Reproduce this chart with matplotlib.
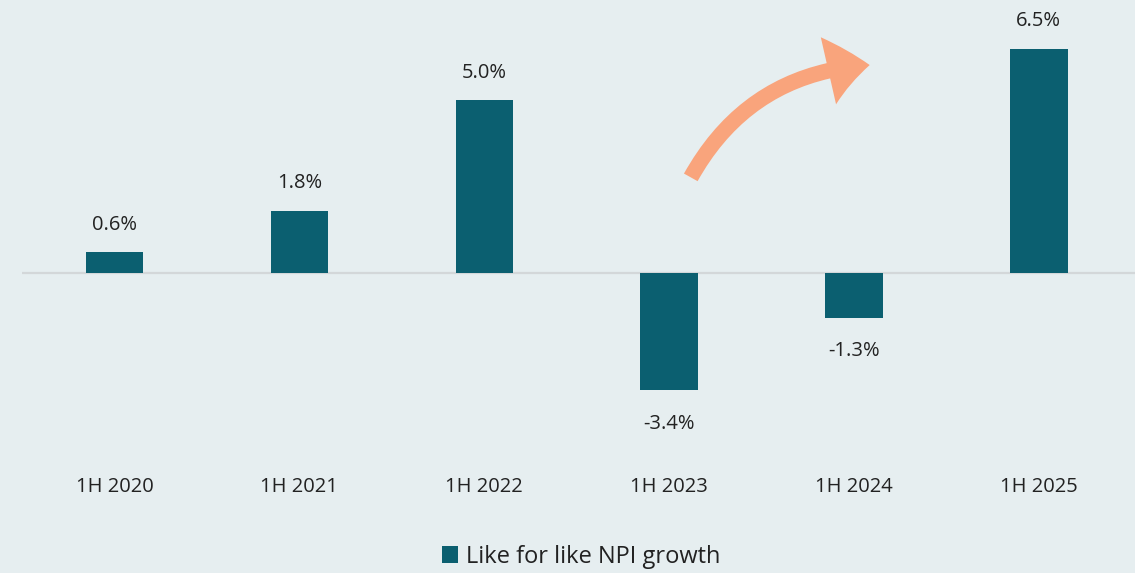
import numpy as np
import matplotlib.pyplot as plt
from matplotlib.patches import FancyArrowPatch

periods = ['1H 2020', '1H 2021', '1H 2022', '1H 2023', '1H 2024', '1H 2025']
growth = [0.6, 1.8, 5.0, -3.4, -1.3, 6.5]
labels = ['0.6%', '1.8%', '5.0%', '-3.4%', '-1.3%', '6.5%']

bg = '#e6eef0'
teal = '#0b5f70'

plt.rcParams['font.family'] = ['Open Sans', 'DejaVu Sans']

fig = plt.figure(figsize=(11.35, 5.73), dpi=100, facecolor=bg)
# axes: left 22px, width ~1113px, top 0, height 440px
ax = fig.add_axes([22/1135, 1 - 440/573, 1113/1135, 440/573])
ax.set_facecolor(bg)

x = np.arange(len(periods))
ax.bar(x, growth, width=0.31, color=teal, label='Like for like NPI growth', zorder=3)
ax.axhline(0, color='#d3d7d9', lw=1.6, zorder=2)

for xi, v, t in zip(x, growth, labels):
    if v >= 0:
        ax.text(xi, v + 0.8, t, ha='center', va='center', fontsize=14.5, color='#222222')
    else:
        ax.text(xi, v - 0.97, t, ha='center', va='center', fontsize=14.5, color='#222222')

ax.set_xlim(-0.5, 5.52)
ax.set_ylim(-4.84, 7.91)
ax.set_xticks(x)
ax.set_xticklabels(periods, fontsize=14.5, color='#222222')
ax.tick_params(axis='x', length=0, pad=27)
ax.set_yticks([])
for s in ax.spines.values():
    s.set_visible(False)

# curved arrow
arr = FancyArrowPatch((3.11, 2.7), (4.1, 6.03), connectionstyle='arc3,rad=-0.28',
                      arrowstyle='simple,head_length=2.0,head_width=3.3,tail_width=0.75',
                      mutation_scale=15, color='#f9a47c', lw=0, zorder=4)
ax.add_patch(arr)

fig.legend(loc='lower center', bbox_to_anchor=(0.512, -0.03), frameon=False, fontsize=17,
           handlelength=0.7, handleheight=0.7, handletextpad=0.35, labelcolor='#222222')

fig.savefig('out.png', dpi=100, facecolor=bg)
